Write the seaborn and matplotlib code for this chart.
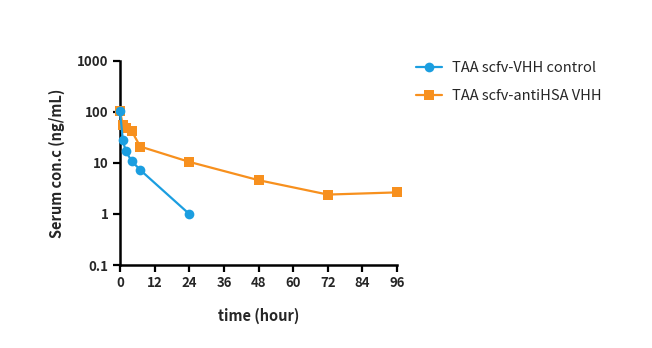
import matplotlib
matplotlib.use("Agg")
import matplotlib.pyplot as plt
import seaborn as sns
import pandas as pd
from matplotlib.ticker import FixedLocator, NullLocator

sns.set_style("ticks")
plt.rcParams['font.family'] = ['Noto Sans CJK SC', 'DejaVu Sans']

series_a = "TAA scfv-VHH control"
series_b = "TAA scfv-antiHSA VHH"
time_a = [0, 1, 2, 4, 7, 24]
conc_a = [104, 28, 17, 11, 7.3, 1.0]
time_b = [0, 1, 2, 4, 7, 24, 48, 72, 96]
conc_b = [105, 55, 49, 43, 21, 10.5, 4.6, 2.4, 2.65]
x_ticks = [0, 12, 24, 36, 48, 60, 72, 84, 96]
y_ticks = [0.1, 1, 10, 100, 1000]
y_tick_labels = ["0.1", "1", "10", "100", "1000"]

df = pd.concat([
    pd.DataFrame({"time": time_b, "conc": conc_b, "group": series_b}),
    pd.DataFrame({"time": time_a, "conc": conc_a, "group": series_a}),
])

fig = plt.figure(figsize=(6.52, 3.48), dpi=100)
ax = fig.add_axes([0.184, 0.2385, 0.425, 0.5865])

palette = {series_a: "#1b9ee0", series_b: "#f7901e"}
sns.lineplot(data=df, x="time", y="conc", hue="group", style="group",
             hue_order=[series_a, series_b],
             markers={series_a: "o", series_b: "s"}, dashes=False,
             palette=palette, linewidth=1.6, markersize=7,
             markeredgewidth=0, ax=ax, sort=False)

# draw control series on top, markers unclipped
for line in ax.get_lines():
    line.set_clip_on(False)
    if line.get_color() == "#1b9ee0":
        line.set_zorder(4)
    else:
        line.set_zorder(3)

ax.set_yscale("log")
ax.set_ylim(0.1, 1000)
ax.set_xlim(0, 96)
ax.xaxis.set_major_locator(FixedLocator(x_ticks))
ax.yaxis.set_major_locator(FixedLocator(y_ticks))
ax.yaxis.set_minor_locator(NullLocator())
ax.set_yticklabels(y_tick_labels)
ax.set_xticklabels([str(t) for t in x_ticks])
for lab in ax.get_xticklabels() + ax.get_yticklabels():
    lab.set_fontweight("bold")
    lab.set_fontsize(9.5)
ax.tick_params(width=1.6, length=5, color="black", pad=3)
for s in ["left", "bottom"]:
    ax.spines[s].set_linewidth(1.8)
    ax.spines[s].set_color("black")
    ax.spines[s].set_zorder(2)
sns.despine(ax=ax)
ax.set_xlabel("time (hour)", fontweight="bold", fontsize=10.5, labelpad=13)
ax.set_ylabel("Serum con.c (ng/mL)", fontweight="bold", fontsize=10.5, labelpad=9)

handles, labels = ax.get_legend_handles_labels()
ax.legend(handles, labels, loc="upper left", bbox_to_anchor=(1.02, 1.065),
          frameon=False, fontsize=10.5, handlelength=1.8, handletextpad=0.7,
          labelspacing=1.0)

fig.savefig("out.png", dpi=100)
